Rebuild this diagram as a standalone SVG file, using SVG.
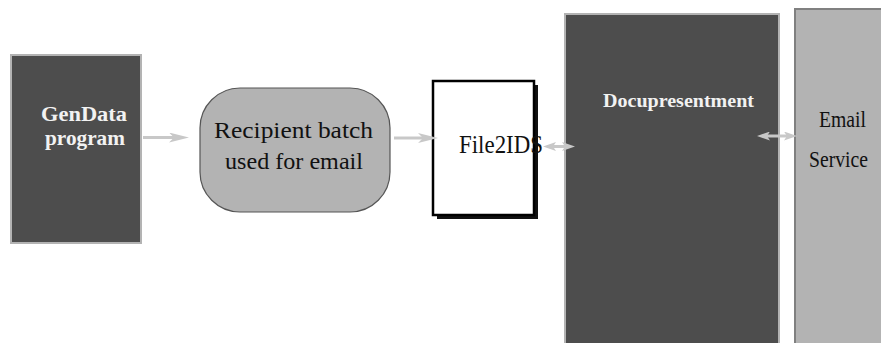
<svg xmlns="http://www.w3.org/2000/svg" width="881" height="343" viewBox="0 0 881 343">
<style>
.dark{fill:#4d4d4d;stroke:#b3b3b3;stroke-width:2}
.t{font-family:"Liberation Serif","Times New Roman",serif}
.w{fill:#f2f2f2}
.k{fill:#111}
.conn{stroke:#c8c8c8;stroke-width:3;fill:none}
</style>
<defs>
<marker id="big" markerUnits="userSpaceOnUse" markerWidth="20" markerHeight="10" refX="5" refY="5" orient="auto-start-reverse">
<path d="M0,0 L20,5 L0,10 L5,5 z" fill="#c8c8c8"/>
</marker>
<marker id="small" markerUnits="userSpaceOnUse" markerWidth="13" markerHeight="9" refX="3" refY="4.5" orient="auto-start-reverse">
<path d="M0,0 L13,4.5 L0,9 L3,4.5 z" fill="#c8c8c8"/>
</marker>
</defs>
<g id="gendata">
<rect class="dark" x="11" y="55" width="130" height="188"/>
<text class="t w" x="84" y="121" font-size="22" font-weight="bold" text-anchor="middle" textLength="86" lengthAdjust="spacingAndGlyphs">GenData</text>
<text class="t w" x="85" y="145" font-size="22" font-weight="bold" text-anchor="middle" textLength="80" lengthAdjust="spacingAndGlyphs">program</text>
</g>
<g id="recipient">
<rect x="200" y="88" width="190" height="124" rx="40" ry="40" fill="#b3b3b3" stroke="#555" stroke-width="1.2"/>
<text class="t k" x="293.5" y="138" font-size="24" text-anchor="middle" textLength="159" lengthAdjust="spacingAndGlyphs">Recipient batch</text>
<text class="t k" x="294" y="169" font-size="24" text-anchor="middle" textLength="138" lengthAdjust="spacingAndGlyphs">used for email</text>
</g>
<g id="file2ids">
<rect x="437" y="85" width="101" height="134" fill="#111"/>
<rect x="433" y="81" width="101" height="134" fill="#fff" stroke="#000" stroke-width="2.5"/>
<text class="t k" x="459" y="153" font-size="25" textLength="84" lengthAdjust="spacingAndGlyphs">File2IDS</text>
</g>
<g id="docupresentment">
<rect class="dark" x="565" y="14" width="214" height="340"/>
<text class="t w" x="603" y="107" font-size="19" font-weight="bold" textLength="151" lengthAdjust="spacingAndGlyphs">Docupresentment</text>
</g>
<g id="email">
<rect x="795" y="9" width="100" height="345" fill="#b3b3b3" stroke="#808080" stroke-width="2"/>
<text class="t k" x="819" y="127" font-size="23" textLength="47" lengthAdjust="spacingAndGlyphs">Email</text>
<text class="t k" x="809" y="167" font-size="23" textLength="59" lengthAdjust="spacingAndGlyphs">Service</text>
</g>
<g id="connectors">
<path class="conn" d="M143,137.5 L174,137.5" marker-end="url(#big)"/>
<path class="conn" d="M394,138 L423,138" marker-end="url(#big)"/>
<path class="conn" d="M553,146.5 L565,146.5" marker-start="url(#small)" marker-end="url(#small)"/>
<path class="conn" d="M767,136 L787,136" marker-start="url(#small)" marker-end="url(#small)"/>
</g>
</svg>
